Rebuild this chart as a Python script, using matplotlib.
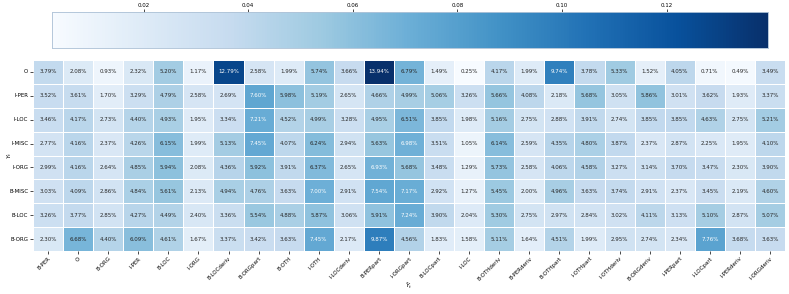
import numpy as np
import matplotlib
matplotlib.use('Agg')
import matplotlib.pyplot as plt
import seaborn as sns

# true labels (rows) and predicted labels (columns)
rows = ['O', 'I-PER', 'I-LOC', 'I-MISC', 'I-ORG', 'B-MISC', 'B-LOC', 'B-ORG']
cols = ['B-PER', 'O', 'B-ORG', 'I-PER', 'B-LOC', 'I-ORG', 'B-LOCderiv', 'B-ORGpart',
        'B-OTH', 'I-OTH', 'I-LOCderiv', 'B-PERpart', 'I-ORGpart', 'B-LOCpart', 'I-LOC',
        'B-OTHderiv', 'B-PERderiv', 'B-OTHpart', 'I-OTHpart', 'I-OTHderiv', 'B-ORGderiv',
        'I-PERpart', 'I-LOCpart', 'I-PERderiv', 'I-ORGderiv']

# percentages per row
row_O = [3.79, 2.08, 0.93, 2.32, 5.20, 1.17, 12.79, 2.58, 1.99, 5.74, 3.66, 13.94, 6.79,
         1.49, 0.25, 4.17, 1.99, 9.74, 3.78, 5.33, 1.52, 4.05, 0.71, 0.49, 3.49]
row_IPER = [3.52, 3.61, 1.70, 3.29, 4.79, 2.58, 2.69, 7.60, 5.98, 5.19, 2.65, 4.66, 4.99,
            5.06, 3.26, 5.66, 4.08, 2.18, 5.68, 3.05, 5.86, 3.01, 3.62, 1.93, 3.37]
row_ILOC = [3.46, 4.17, 2.73, 4.40, 4.93, 1.95, 3.34, 7.21, 4.52, 4.99, 3.28, 4.95, 6.51,
            3.85, 1.98, 5.16, 2.75, 2.88, 3.91, 2.74, 3.85, 3.85, 4.63, 2.75, 5.21]
row_IMISC = [2.77, 4.16, 2.37, 4.26, 6.15, 1.99, 5.13, 7.45, 4.07, 6.24, 2.94, 5.63, 6.98,
             3.51, 1.05, 6.14, 2.59, 4.35, 4.80, 3.87, 2.37, 2.87, 2.25, 1.95, 4.10]
row_IORG = [2.99, 4.16, 2.64, 4.85, 5.94, 2.08, 4.36, 5.92, 3.91, 6.37, 2.65, 6.93, 5.68,
            3.48, 1.29, 5.73, 2.58, 4.06, 4.58, 3.27, 3.14, 3.70, 3.47, 2.30, 3.90]
row_BMISC = [3.03, 4.09, 2.86, 4.84, 5.61, 2.13, 4.94, 4.76, 3.63, 7.00, 2.91, 7.54, 7.17,
             2.92, 1.27, 5.45, 2.00, 4.96, 3.63, 3.74, 2.91, 2.37, 3.45, 2.19, 4.60]
row_BLOC = [3.26, 3.77, 2.85, 4.27, 4.49, 2.40, 3.36, 5.54, 4.88, 5.87, 3.06, 5.91, 7.24,
            3.90, 2.04, 5.30, 2.75, 2.97, 2.84, 3.02, 4.11, 3.13, 5.10, 2.87, 5.07]
row_BORG = [2.30, 6.68, 4.40, 6.09, 4.61, 1.67, 3.37, 3.42, 3.63, 7.45, 2.17, 9.87, 4.56,
            1.83, 1.58, 5.11, 1.64, 4.51, 1.99, 2.95, 2.74, 2.34, 7.76, 3.68, 3.63]

data = np.array([row_O, row_IPER, row_ILOC, row_IMISC, row_IORG,
                 row_BMISC, row_BLOC, row_BORG]) / 100.0

fig = plt.figure(figsize=(7.89, 2.94), dpi=100)
ax = fig.add_axes([33 / 789, 1 - 251 / 294, 752 / 789, 191 / 294])
cax = fig.add_axes([52 / 789, 1 - 48 / 294, 716 / 789, 36 / 294])

sns.heatmap(data, ax=ax, cbar_ax=cax, cmap='Blues', annot=True, fmt='.2%',
            annot_kws={'fontsize': 4}, linewidths=0.5, linecolor='white',
            xticklabels=cols, yticklabels=rows,
            cbar_kws={'orientation': 'horizontal'})

ax.tick_params(axis='both', labelsize=4, length=2, width=0.5, pad=1.5)
plt.setp(ax.get_xticklabels(), rotation=45, ha='right', rotation_mode='anchor')
plt.setp(ax.get_yticklabels(), rotation=0)
ax.set_ylabel('$Y_t$', fontsize=4.5, va='center')
ax.set_xlabel(r'$\hat{Y}_t$', fontsize=4.5, va='center')
ax.yaxis.set_label_coords(-0.031, 0.5)
ax.xaxis.set_label_coords(0.5, -0.183)

cax.xaxis.set_ticks_position('top')
cax.tick_params(labelsize=4, length=2, width=0.5, pad=1)
for s in cax.spines.values():
    s.set_visible(True)
    s.set_linewidth(0.5)
    s.set_edgecolor('#b0c4d8')

fig.savefig('out.png', dpi=100)
